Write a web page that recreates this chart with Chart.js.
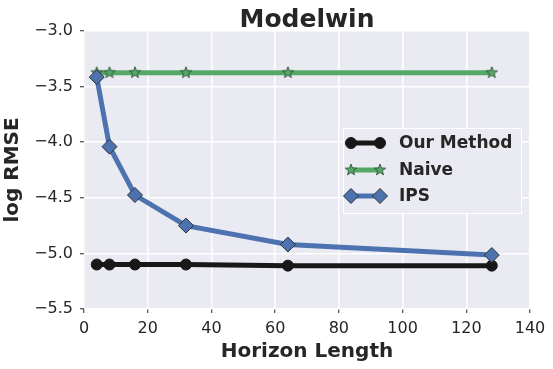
<!DOCTYPE html>
<html>
<head>
<meta charset="utf-8">
<script src="https://cdn.jsdelivr.net/npm/chart.js@4/dist/chart.umd.min.js"></script>
<style>
  body { margin: 0; background: #fff; }
  #wrap { width: 553px; height: 369px; }
</style>
</head>
<body>
<div id="wrap"><canvas id="c" width="553" height="369"></canvas></div>
<script>
// values
const horizons = [4, 8, 16, 32, 64, 128];
const ourMethod = [-5.10, -5.10, -5.10, -5.10, -5.11, -5.11];
const naive = [-3.375, -3.375, -3.375, -3.375, -3.375, -3.375];
const ips = [-3.415, -4.04, -4.475, -4.75, -4.92, -5.015];
const xTicks = [0, 20, 40, 60, 80, 100, 120, 140];
const yTicks = [-5.5, -5.0, -4.5, -4.0, -3.5, -3.0];

const BG = '#EAEAF2';
const TXT = '#262626';
const FONT = 'DejaVu Sans';

// matplotlib-like filled star marker
function makeStar(r, fill, edge) {
  const s = Math.ceil(r * 2 + 4);
  const cv = document.createElement('canvas');
  cv.width = s; cv.height = s;
  const g = cv.getContext('2d');
  drawStar(g, s / 2, s / 2, r, fill, edge);
  return cv;
}
function drawStar(g, cx, cy, r, fill, edge) {
  const ri = r * 0.42;
  g.beginPath();
  for (let i = 0; i < 10; i++) {
    const rr = i % 2 ? ri : r;
    const a = -Math.PI / 2 + i * Math.PI / 5;
    const px = cx + rr * Math.cos(a), py = cy + rr * Math.sin(a);
    i ? g.lineTo(px, py) : g.moveTo(px, py);
  }
  g.closePath();
  g.fillStyle = fill; g.fill();
  g.lineWidth = 0.8; g.strokeStyle = edge; g.stroke();
}
const starImg = makeStar(6, '#55A868', '#2a4a30');

const series = [
  { label: 'Our Method', data: ourMethod, color: '#181818', marker: 'circle', size: 5.5, edge: '#181818', order: 2 },
  { label: 'Naive', data: naive, color: '#55A868', marker: 'star', size: 6, edge: '#2a4a30', order: 1 },
  { label: 'IPS', data: ips, color: '#4C72B0', marker: 'diamond', size: 7.5, edge: '#333', order: 0 }
];

const datasets = series.map(s => ({
  label: s.label,
  data: horizons.map((h, i) => ({ x: h, y: s.data[i] })),
  borderColor: s.color,
  backgroundColor: s.color,
  borderWidth: 5,
  pointStyle: s.marker === 'star' ? starImg : (s.marker === 'diamond' ? 'rectRot' : 'circle'),
  pointRadius: s.size,
  pointBackgroundColor: s.color,
  pointBorderColor: s.edge,
  pointBorderWidth: 1,
  tension: 0,
  order: s.order
}));

function drawMarker(g, s, x, y) {
  if (s.marker === 'star') { drawStar(g, x, y, s.size, s.color, s.edge); return; }
  g.beginPath();
  if (s.marker === 'circle') g.arc(x, y, s.size, 0, Math.PI * 2);
  else {
    g.moveTo(x - s.size, y); g.lineTo(x, y - s.size);
    g.lineTo(x + s.size, y); g.lineTo(x, y + s.size); g.closePath();
  }
  g.fillStyle = s.color; g.fill();
  g.lineWidth = 1; g.strokeStyle = s.edge; g.stroke();
}

const decor = {
  id: 'decor',
  beforeDraw(chart) {
    const { ctx, chartArea: a } = chart;
    ctx.save();
    ctx.fillStyle = BG;
    ctx.fillRect(a.left, a.top, a.right - a.left, a.bottom - a.top);
    ctx.restore();
  },
  afterDraw(chart) {
    const { ctx, chartArea: a } = chart;
    ctx.save();
    // title
    ctx.fillStyle = TXT;
    ctx.font = 'bold 25px "' + FONT + '"';
    ctx.textAlign = 'center';
    ctx.textBaseline = 'alphabetic';
    ctx.fillText('Modelwin', (a.left + a.right) / 2, 27);

    // legend
    const lx = 343.5, ly = 128.5, lw = 178, lh = 85;
    ctx.fillStyle = BG;
    ctx.fillRect(lx, ly, lw, lh);
    ctx.strokeStyle = '#ffffff';
    ctx.lineWidth = 1;
    ctx.strokeRect(lx, ly, lw, lh);
    const rows = [143, 170, 196];
    series.forEach((s, i) => {
      const y = rows[i];
      ctx.beginPath();
      ctx.moveTo(351, y); ctx.lineTo(380, y);
      ctx.strokeStyle = s.color; ctx.lineWidth = 5; ctx.stroke();
      drawMarker(ctx, s, 351, y);
      drawMarker(ctx, s, 380, y);
      ctx.fillStyle = TXT;
      ctx.font = 'bold 17px "' + FONT + '"';
      ctx.textAlign = 'left';
      ctx.textBaseline = 'middle';
      ctx.fillText(s.label, 399, y + 1);
    });
    ctx.restore();
  }
};

const minus = v => v.toFixed(1).replace('-', '\u2212');

new Chart(document.getElementById('c'), {
  type: 'line',
  data: { datasets },
  plugins: [decor],
  options: {
    responsive: false,
    animation: false,
    devicePixelRatio: 1,
    layout: { padding: { top: 31, right: 23, left: 0, bottom: 0 } },
    plugins: { legend: { display: false }, tooltip: { enabled: false }, title: { display: false } },
    scales: {
      x: {
        type: 'linear',
        min: xTicks[0], max: xTicks[xTicks.length - 1],
        afterFit(scale) { scale.height = 60; },
        afterBuildTicks(scale) { scale.ticks = xTicks.map(v => ({ value: v })); },
        grid: { color: '#ffffff', lineWidth: 1.5, tickColor: TXT, tickLength: 4, tickWidth: 1 },
        border: { display: false },
        ticks: { color: TXT, font: { family: FONT, size: 16 }, padding: 6, maxRotation: 0,
                 callback: v => String(v) },
        title: { display: true, text: 'Horizon Length', color: TXT,
                 font: { family: FONT, size: 20, weight: 'bold' }, padding: { top: 0, bottom: 5 } }
      },
      y: {
        min: yTicks[0], max: yTicks[yTicks.length - 1],
        afterFit(scale) { scale.width = 84; },
        afterBuildTicks(scale) { scale.ticks = yTicks.map(v => ({ value: v })); },
        grid: { color: '#ffffff', lineWidth: 1.5, tickColor: TXT, tickLength: 4, tickWidth: 1 },
        border: { display: false },
        ticks: { color: TXT, font: { family: FONT, size: 16 }, padding: 7, callback: v => minus(v) },
        title: { display: true, text: 'log RMSE', color: TXT,
                 font: { family: FONT, size: 20, weight: 'bold' }, padding: { top: 1, bottom: 0 } }
      }
    }
  }
});
</script>
</body>
</html>
